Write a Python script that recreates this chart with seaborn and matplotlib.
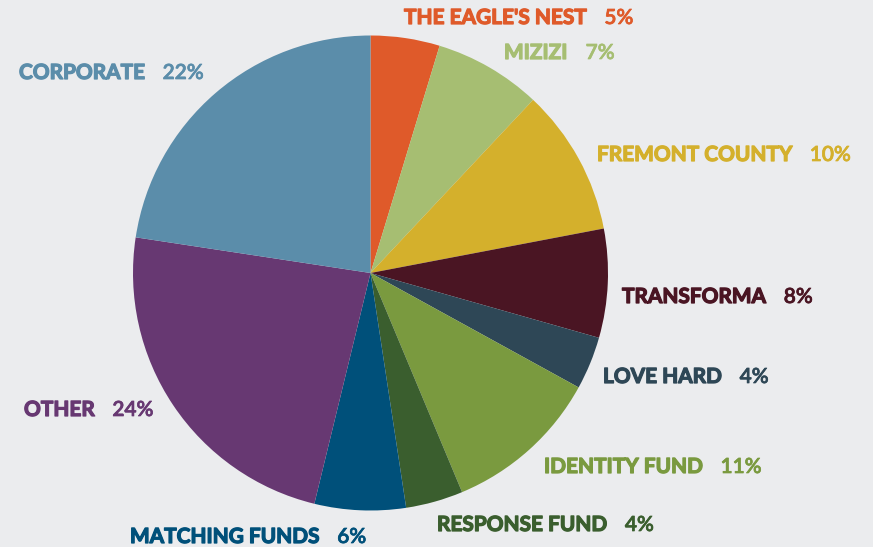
import matplotlib
matplotlib.use("Agg")
import matplotlib.pyplot as plt
import matplotlib.patheffects as pe
import seaborn as sns

# data (slice sizes; labels show the rounded figures)
names = ["THE EAGLE'S NEST", "MIZIZI", "FREMONT COUNTY", "TRANSFORMA", "LOVE HARD",
         "IDENTITY FUND", "RESPONSE FUND", "MATCHING FUNDS", "OTHER", "CORPORATE"]
shares = [4.7, 7.3, 10.0, 7.4, 3.6, 10.7, 3.9, 6.2, 23.6, 22.6]
pct_labels = [5, 7, 10, 8, 4, 11, 4, 6, 24, 22]
colors = ["#DF5A2A", "#A6BE72", "#D4B02C", "#4A1523", "#2E4756",
          "#7A9A3F", "#3A5E2E", "#00507A", "#673872", "#5B8DAA"]
# label anchor (left x, centre y) in pixels from top-left
label_pos = [(404, 18), (504, 53), (597, 155), (622, 297), (603, 377),
             (544, 467), (437, 525), (130, 537), (24, 410), (19, 73)]

bg = "#EBECEE"
sns.set_theme(style="white")
plt.rcParams['font.family'] = ['Lato', 'DejaVu Sans']

W, H = 873, 547
fig = plt.figure(figsize=(W / 100, H / 100), dpi=100, facecolor=bg)
ax = fig.add_axes([0, 0, 1, 1])
ax.set_facecolor(bg)

ax.pie(shares, colors=colors, startangle=90, counterclock=False,
       center=(370.5, H - 273), radius=237.5, wedgeprops=dict(linewidth=0),
       frame=True)
ax.set_xlim(0, W)
ax.set_ylim(0, H)
ax.set_aspect('equal')
ax.axis('off')

fig.canvas.draw()
renderer = fig.canvas.get_renderer()
for name, pct, col, (x, y) in zip(names, pct_labels, colors, label_pos):
    t = ax.text(x, H - y, name, color=col, fontsize=15, fontweight='bold',
                ha='left', va='center',
                path_effects=[pe.withStroke(linewidth=0.9, foreground=col)])
    bb = t.get_window_extent(renderer=renderer)
    ax.text(bb.x1 + 18, H - y, f"{pct}%", color=col, fontsize=15,
            fontweight='semibold', ha='left', va='center',
            path_effects=[pe.withStroke(linewidth=0.5, foreground=col)])

fig.savefig("out.png", dpi=100, facecolor=bg)
